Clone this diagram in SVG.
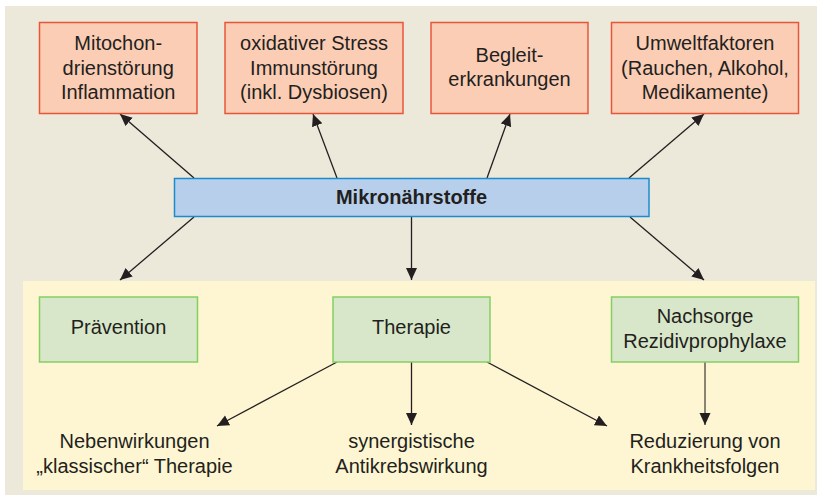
<svg xmlns="http://www.w3.org/2000/svg" width="817" height="497" viewBox="0 0 817 497">
<style>
.t{font-family:"Liberation Sans",Arial,sans-serif;font-size:20px;fill:#231f20;text-anchor:middle}
.b{font-weight:bold}
.red{fill:#fbcdb5;stroke:#e9553b;stroke-width:1.5}
.blue{fill:#b8cfec;stroke:#1a8ccd;stroke-width:1.5}
.green{fill:#d8e7c9;stroke:#84cf63;stroke-width:1.5}
.c{stroke:#231f20;stroke-width:1.3;fill:none;marker-end:url(#ah)}
</style>
<defs>
<marker id="ah" markerUnits="userSpaceOnUse" markerWidth="13" markerHeight="12" refX="12" refY="5.5" orient="auto">
<path d="M0,0 L12,5.5 L0,11 z" fill="#231f20"/>
</marker>
</defs>
<rect x="5" y="6" width="812" height="489" fill="#ece9da"/>
<rect x="23" y="281" width="792" height="209" fill="#fef6d2"/>

<g id="connectors">
<line class="c" x1="194" y1="178" x2="120" y2="114"/>
<line class="c" x1="337" y1="178" x2="313" y2="114"/>
<line class="c" x1="487" y1="178" x2="510" y2="114"/>
<line class="c" x1="629" y1="178" x2="704" y2="114"/>
<line class="c" x1="194" y1="217" x2="120" y2="280"/>
<line class="c" x1="411.5" y1="217" x2="411.5" y2="280"/>
<line class="c" x1="630" y1="217" x2="704" y2="280"/>
<line class="c" x1="337" y1="362" x2="217" y2="426"/>
<line class="c" x1="411.5" y1="362" x2="411.5" y2="425"/>
<line class="c" x1="487" y1="362" x2="607" y2="426"/>
<line class="c" x1="705" y1="362" x2="705" y2="425" style="stroke:#4a4541"/>
</g>

<g id="mito">
<rect class="red" x="39.5" y="22.5" width="157.5" height="91"/>
<text class="t" x="118.2" y="50">Mitochon-</text>
<text class="t" x="118.2" y="74.5">drienstörung</text>
<text class="t" x="118.2" y="99">Inflammation</text>
</g>
<g id="oxid">
<rect class="red" x="225" y="22.5" width="178" height="91"/>
<text class="t" x="314" y="50">oxidativer Stress</text>
<text class="t" x="314" y="74.5">Immunstörung</text>
<text class="t" x="314" y="99">(inkl. Dysbiosen)</text>
</g>
<g id="begleit">
<rect class="red" x="431" y="22.5" width="157" height="91"/>
<text class="t" x="509.5" y="61.5">Begleit-</text>
<text class="t" x="509.5" y="86">erkrankungen</text>
</g>
<g id="umwelt">
<rect class="red" x="611.5" y="22.5" width="187" height="91"/>
<text class="t" x="705" y="50">Umweltfaktoren</text>
<text class="t" x="705" y="74.5">(Rauchen, Alkohol,</text>
<text class="t" x="705" y="99">Medikamente)</text>
</g>
<g id="mikro">
<rect class="blue" x="174.5" y="178.5" width="474.5" height="38"/>
<text class="t b" x="411.5" y="204">Mikronährstoffe</text>
</g>
<g id="praevention">
<rect class="green" x="39.5" y="297" width="158" height="65"/>
<text class="t" x="118.5" y="333.5">Prävention</text>
</g>
<g id="therapie">
<rect class="green" x="333" y="297" width="157" height="65"/>
<text class="t" x="411.5" y="333.5">Therapie</text>
</g>
<g id="nachsorge">
<rect class="green" x="611.5" y="297" width="187" height="65"/>
<text class="t" x="705" y="323">Nachsorge</text>
<text class="t" x="705" y="347.5">Rezidivprophylaxe</text>
</g>
<g id="neben">
<text class="t" x="134.5" y="448">Nebenwirkungen</text>
<text class="t" x="134.5" y="473">„klassischer“ Therapie</text>
</g>
<g id="synerg">
<text class="t" x="411.5" y="448">synergistische</text>
<text class="t" x="411.5" y="473">Antikrebswirkung</text>
</g>
<g id="reduz">
<text class="t" x="705" y="448">Reduzierung von</text>
<text class="t" x="705" y="473">Krankheitsfolgen</text>
</g>
</svg>
